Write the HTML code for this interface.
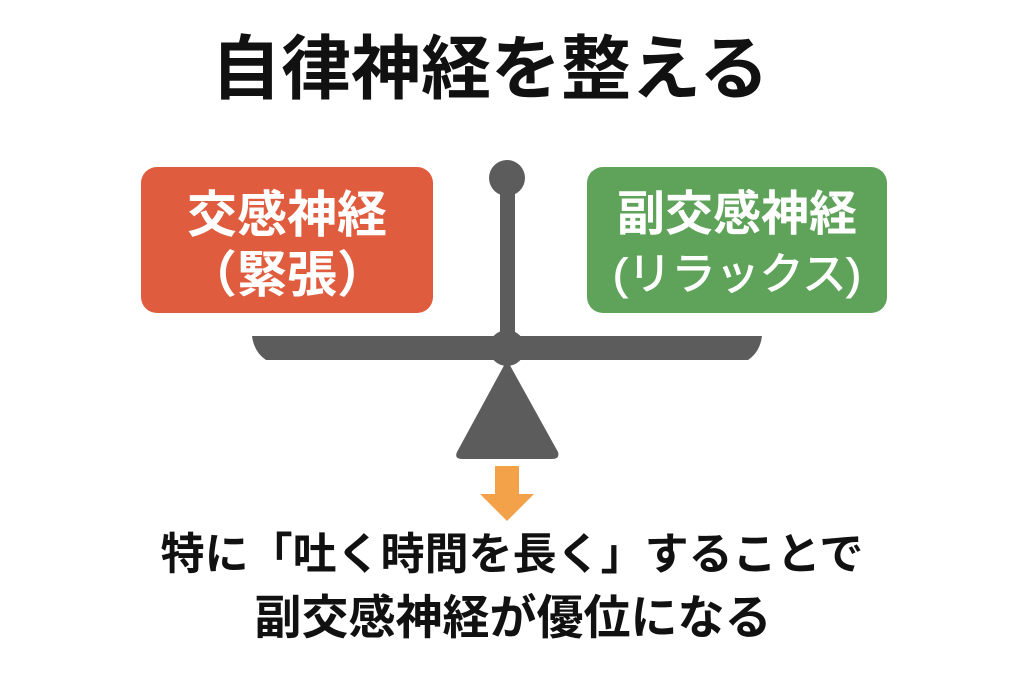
<!DOCTYPE html>
<html><head><meta charset="utf-8"><style>
body{margin:0;width:1024px;height:683px;background:#fff;position:relative;overflow:hidden;font-family:"Liberation Sans","Noto Sans CJK JP",sans-serif;}
.t{position:absolute;white-space:nowrap;font-weight:bold;}
.box{position:absolute;top:167px;height:146px;box-sizing:border-box;padding-top:10px;border-radius:16px;color:#fff;font-weight:bold;font-size:50px;line-height:60px;text-align:center;display:flex;flex-direction:column;justify-content:center;white-space:nowrap;}
</style></head><body>
<div class="t" style="left:0;width:980px;text-align:center;top:24px;font-size:70px;line-height:90px;color:#111;">自律神経を整える</div>
<div class="box" style="left:141px;width:292px;background:#e05c3f;"><div>交感神経</div><div>（緊張）</div></div>
<div class="box" style="left:587px;width:300px;background:#5fa35a;"><div style="font-size:48px">副交感神経</div><div style="font-size:44px;font-weight:normal;-webkit-text-stroke:1px #fff;">(リラックス)</div></div>
<svg style="position:absolute;left:0;top:0" width="1024" height="683">
<g fill="#5c5c5c">
<circle cx="507" cy="178" r="18"/>
<rect x="500" y="180" width="15" height="160"/>
<path d="M252 336 L762 336 Q760 352 748 360 L266 360 Q254 352 252 336Z"/>
<circle cx="507" cy="348" r="18"/>
<path d="M507 360 L558 452 Q560 459 552 459 L462 459 Q454 459 457 452Z"/>
</g>
<path fill="#f4a24a" d="M495 466 L519 466 L519 494 L534 494 L507 521 L480 494 L495 494Z"/>
</svg>
<div class="t" style="left:0;width:1024px;text-align:center;top:527px;font-size:44px;line-height:56px;color:#111;">特に「吐く時間を長く」することで</div>
<div class="t" style="left:0;width:1026px;text-align:center;top:590px;font-size:47px;line-height:56px;color:#111;">副交感神経が優位になる</div>
</body></html>
